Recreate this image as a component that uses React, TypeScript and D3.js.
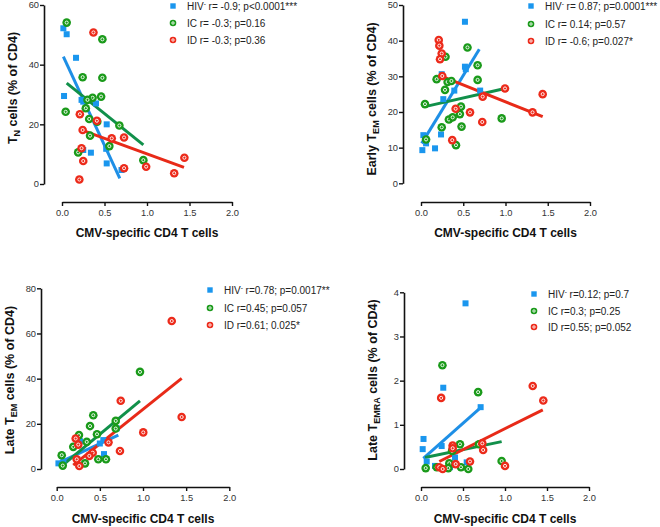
import React, { useEffect, useRef } from "react";
import * as d3 from "d3";

type Pt = [number, number];

const FONT = "'Liberation Sans', Arial, sans-serif";
const BLUE = "#1a96ee";
const GREEN = "#1a9a1a";
const RED = "#ec2a1a";
const BLUE_LINE = "#1e8fe6";
const GREEN_LINE = "#11904a";
const RED_LINE = "#e82a18";

// panel 1: naive T cells
const tnHiv: Pt[] = [[0.016, 52.2], [0.055, 50.2], [0.165, 42.3], [0.024, 29.5], [0.23, 28.2], [0.25, 27.6], [0.4, 27], [0.526, 20], [0.25, 11.4], [0.34, 10.5], [0.526, 6.9], [0.52, 11.8], [0.7, 4.7]];
const tnIC: Pt[] = [[0.055, 54.1], [0.475, 48.5], [0.243, 35.8], [0.475, 35.6], [0.36, 28.9], [0.46, 29.3], [0.043, 24.2], [0.28, 25.4], [0.3, 28.2], [0.32, 21.8], [0.415, 20.9], [0.33, 16.2], [0.675, 19.6], [0.557, 12.7], [0.19, 10.6], [0.957, 8.0]];
const tnID: Pt[] = [[0.37, 50.8], [0.21, 23.4], [0.41, 21.2], [0.243, 18.1], [0.585, 15.3], [0.73, 15.6], [0.23, 12.0], [0.25, 7.7], [0.204, 1.5], [0.73, 5.3], [0.99, 5.8], [1.32, 3.6], [1.44, 8.8]];
const tnFitHiv: Pt[] = [[0.016, 42.7], [0.68, 1.9]];
const tnFitIC: Pt[] = [[0.055, 33.8], [0.957, 13.1]];
const tnFitID: Pt[] = [[0.21, 18.3], [1.435, 5.6]];
const tnStats = ["r= -0.9; p<0.0001***", "r= -0.3; p=0.16", "r= -0.3; p=0.36"];

// panel 2: early TEM
const earlyHiv: Pt[] = [[0.016, 9.3], [0.028, 13.5], [0.06, 11.2], [0.166, 9.8], [0.237, 13.7], [0.245, 30.6], [0.264, 23.6], [0.394, 26.0], [0.52, 45.3], [0.52, 32.7], [0.53, 32.0], [0.7, 26.0]];
const earlyIC: Pt[] = [[0.047, 22.2], [0.06, 12.3], [0.185, 29.2], [0.29, 35.5], [0.284, 26.2], [0.315, 28.4], [0.36, 28.7], [0.245, 15.7], [0.33, 17.9], [0.375, 18.5], [0.414, 10.7], [0.46, 19.4], [0.473, 21.5], [0.48, 15.9], [0.55, 38.1], [0.67, 33.1], [0.67, 29.0], [0.955, 18.2]];
const earlyID: Pt[] = [[0.21, 40.2], [0.217, 38.6], [0.245, 36.4], [0.225, 34.8], [0.252, 30.1], [0.41, 20.9], [0.37, 12.1], [0.58, 19.9], [0.725, 17.2], [0.73, 24.3], [0.994, 26.6], [1.32, 19.9], [1.44, 25.0]];
const earlyFitHiv: Pt[] = [[0.008, 11.2], [0.69, 37.6]];
const earlyFitIC: Pt[] = [[0.047, 21.5], [0.994, 26.6]];
const earlyFitID: Pt[] = [[0.225, 30.2], [1.44, 18.7]];
const earlyStats = ["r= 0.87; p=0.0001***", "r= 0.14; p=0.57", "r= -0.6; p=0.027*"];

// panel 3: late TEM
const lateHiv: Pt[] = [[0.02, 2.5], [0.077, 3.2], [0.27, 12.3], [0.54, 12.8], [0.548, 6.6], [0.695, 18.0], [0.5, 11.3]];
const lateIC: Pt[] = [[0.965, 43.0], [0.424, 23.8], [0.386, 19.0], [0.684, 21.3], [0.684, 17.9], [0.467, 15.4], [0.258, 15.0], [0.348, 12.0], [0.192, 9.8], [0.058, 6.1], [0.482, 4.3], [0.571, 4.3], [0.328, 2.5], [0.07, 1.5]];
const lateID: Pt[] = [[1.333, 65.5], [0.742, 30.2], [1.448, 23.0], [1.003, 16.2], [0.22, 13.5], [0.25, 10.8], [0.6, 11.8], [0.733, 8.0], [0.417, 7.2], [0.378, 5.8], [0.262, 1.3], [0.232, 4.3]];
const lateFitHiv: Pt[] = [[0.015, 2.6], [0.714, 15.0]];
const lateFitIC: Pt[] = [[0.07, 1.7], [0.965, 30.2]];
const lateFitID: Pt[] = [[0.192, 1.7], [1.448, 40.1]];
const lateStats = ["r=0.78; p=0.0017**", "r=0.45; p=0.057", "r=0.61; 0.025*"];

// panel 4: late TEMRA
const emraHiv: Pt[] = [[0.53, 3.75], [0.265, 1.84], [0.71, 1.4], [0.03, 0.68], [0.02, 0.45], [0.246, 0.52], [0.405, 0.26], [0.068, 0.17], [0.544, 0.15], [0.167, 0.07], [0.345, 0.04]];
const emraIC: Pt[] = [[0.255, 2.35], [0.68, 1.74], [0.464, 0.56], [0.69, 0.56], [0.37, 0.41], [0.96, 0.18], [0.056, 0.02], [0.187, 0.04], [0.337, 0.13], [0.325, 0.02], [0.476, 0.04], [0.563, 0.0]];
const emraID: Pt[] = [[0.24, 1.61], [1.33, 1.88], [1.456, 1.55], [0.377, 0.53], [0.377, 0.47], [0.73, 0.58], [0.74, 0.43], [0.583, 0.17], [1.0, 0.07], [0.218, 0.04], [0.258, 0.0], [0.413, 0.11]];
const emraFitHiv: Pt[] = [[0.028, 0.24], [0.7, 1.37]];
const emraFitIC: Pt[] = [[0.048, 0.26], [0.96, 0.62]];
const emraFitID: Pt[] = [[0.218, 0.17], [1.45, 1.34]];
const emraStats = ["r=0.12; p=0.7", "r=0.3; p=0.25", "r=0.55; p=0.052"];

const groupNames = ["HIV", "IC", "ID"];
const xTicks = [0, 0.5, 1, 1.5, 2];

interface PanelProps {
  hiv: Pt[];
  ic: Pt[];
  id: Pt[];
  fits: Pt[][];
  stats: string[];
  yMax: number;
  yStep: number;
  xPix: [number, number];
  yPix: [number, number];
  yAxisX: number;
  xAxisY: number;
  prefix: string;
  sub: string;
  titleX: number;
  titleY: number;
  xTitleY: number;
  legendX: number;
  legendY: number[];
}

const Circle = ({ cx, cy, color, r }: { cx: number; cy: number; color: string; r: number }) => (
  <g>
    <circle cx={cx} cy={cy} r={r} fill={color} />
    <circle cx={cx} cy={cy} r={r * 0.36} fill="none" stroke="#fff" strokeWidth={0.9} />
  </g>
);

const Panel: React.FC<PanelProps> = (p) => {
  const yRef = useRef<SVGGElement>(null);
  const xRef = useRef<SVGGElement>(null);
  const x = d3.scaleLinear().domain([0, 2]).range(p.xPix);
  const y = d3.scaleLinear().domain([0, p.yMax]).range(p.yPix);

  useEffect(() => {
    const yAxis = d3
      .axisLeft(y)
      .tickValues(d3.range(0, p.yMax + p.yStep / 2, p.yStep))
      .tickFormat(d3.format("d"))
      .tickSizeInner(4)
      .tickSizeOuter(0)
      .tickPadding(1);
    const gy = d3.select(yRef.current!);
    gy.selectAll("*").remove();
    gy.call(yAxis as any);
    const xAxis = d3
      .axisBottom(x)
      .tickValues(xTicks)
      .tickFormat(d3.format(".1f"))
      .tickSizeInner(4)
      .tickSizeOuter(0)
      .tickPadding(3);
    const gx = d3.select(xRef.current!);
    gx.selectAll("*").remove();
    gx.call(xAxis as any);
    [gy, gx].forEach((g) => {
      g.select(".domain").attr("stroke", "#111").attr("stroke-width", 1.6);
      g.selectAll(".tick line").attr("stroke", "#111").attr("stroke-width", 1.4);
      g.selectAll(".tick text")
        .attr("fill", "#333")
        .style("font-family", FONT)
        .style("font-size", "9.3px");
    });
  }, []);

  const line = d3
    .line<Pt>()
    .x((d) => x(d[0]))
    .y((d) => y(d[1]));
  const lineColors = [BLUE_LINE, GREEN_LINE, RED_LINE];
  const markColors = [BLUE, GREEN, RED];
  const xMid = (p.xPix[0] + p.xPix[1]) / 2;

  return (
    <g>
      <g ref={yRef} transform={`translate(${p.yAxisX},0)`} />
      <g ref={xRef} transform={`translate(0,${p.xAxisY})`} />
      {p.fits.map((f, i) => (
        <path key={i} d={line(f) || ""} stroke={lineColors[i]} strokeWidth={3} fill="none" />
      ))}
      {p.hiv.map((d, i) => (
        <rect key={"h" + i} x={x(d[0]) - 3} y={y(d[1]) - 3} width={6} height={6} fill={BLUE} />
      ))}
      {p.ic.map((d, i) => (
        <Circle key={"c" + i} cx={x(d[0])} cy={y(d[1])} r={4.3} color={GREEN} />
      ))}
      {p.id.map((d, i) => (
        <Circle key={"d" + i} cx={x(d[0])} cy={y(d[1])} r={4.3} color={RED} />
      ))}
      <text
        transform={`translate(${p.titleX},${p.titleY}) rotate(-90)`}
        textAnchor="middle"
        fontFamily={FONT}
        fontWeight="bold"
        fontSize={12.5}
        fill="#111"
      >
        {p.prefix}
        <tspan fontSize={9} dy={3}>{p.sub}</tspan>
        <tspan dy={-3}> cells (% of CD4)</tspan>
      </text>
      <text x={xMid} y={p.xTitleY} textAnchor="middle" fontFamily={FONT} fontWeight="bold" fontSize={12} fill="#111">
        CMV-specific CD4 T cells
      </text>
      {groupNames.map((g, i) => (
        <g key={g}>
          {i === 0 ? (
            <rect x={p.legendX - 2.7} y={p.legendY[i] - 2.7} width={5.4} height={5.4} fill={BLUE} />
          ) : (
            <Circle cx={p.legendX} cy={p.legendY[i]} r={3.3} color={markColors[i]} />
          )}
          <text x={p.legendX + 14} y={p.legendY[i] + 3.5} fontFamily={FONT} fontSize={10} fill="#222">
            {g}
            {i === 0 ? <tspan fontSize={6.5} dy={-4}>-</tspan> : null}
            <tspan dy={i === 0 ? 4 : 0}>{" " + p.stats[i]}</tspan>
          </text>
        </g>
      ))}
    </g>
  );
};

export default function App() {
  return (
    <svg
      width={660}
      height={527}
      style={{ position: "absolute", left: 0, top: 0, background: "#fff" }}
    >
      <Panel
        hiv={tnHiv} ic={tnIC} id={tnID} fits={[tnFitHiv, tnFitIC, tnFitID]} stats={tnStats}
        yMax={60} yStep={20} xPix={[62, 232]} yPix={[184, 5]} yAxisX={44} xAxisY={202}
        prefix="T" sub="N" titleX={17} titleY={88} xTitleY={237}
        legendX={173} legendY={[6, 23, 40]}
      />
      <Panel
        hiv={earlyHiv} ic={earlyIC} id={earlyID} fits={[earlyFitHiv, earlyFitIC, earlyFitID]} stats={earlyStats}
        yMax={50} yStep={10} xPix={[421, 590]} yPix={[183.3, 5]} yAxisX={403} xAxisY={202}
        prefix="Early T" sub="EM" titleX={376} titleY={99} xTitleY={237}
        legendX={531} legendY={[6, 24, 41]}
      />
      <Panel
        hiv={lateHiv} ic={lateIC} id={lateID} fits={[lateFitHiv, lateFitIC, lateFitID]} stats={lateStats}
        yMax={80} yStep={20} xPix={[56.7, 229.3]} yPix={[469, 288.3]} yAxisX={41} xAxisY={487}
        prefix="Late T" sub="EM" titleX={14} titleY={380} xTitleY={523}
        legendX={210} legendY={[290, 308, 325]}
      />
      <Panel
        hiv={emraHiv} ic={emraIC} id={emraID} fits={[emraFitHiv, emraFitIC, emraFitID]} stats={emraStats}
        yMax={4} yStep={1} xPix={[421, 589]} yPix={[469, 292.3]} yAxisX={404} xAxisY={487}
        prefix="Late T" sub="EMRA" titleX={377} titleY={380} xTitleY={523}
        legendX={534} legendY={[294, 311, 327]}
      />
    </svg>
  );
}
